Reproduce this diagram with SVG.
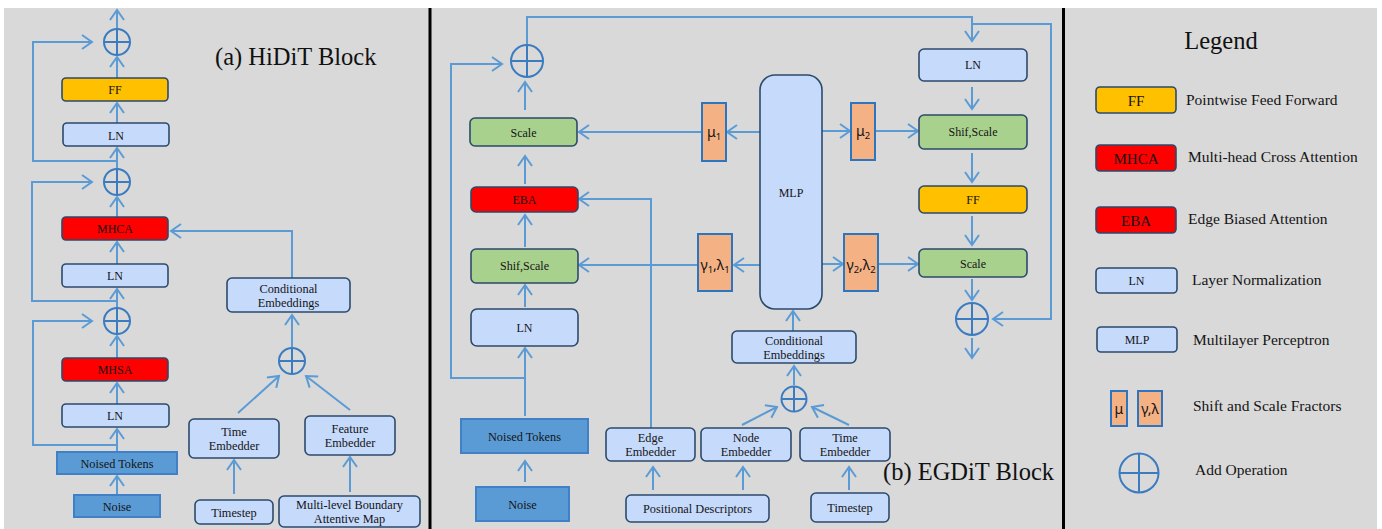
<svg xmlns="http://www.w3.org/2000/svg" width="1382" height="529" viewBox="0 0 1382 529">
  <defs>
    <style>
      .bg { fill: #d9d9d9; }
      .sep { stroke: #000; stroke-width: 3; }
      .box { stroke: #2c4a6b; stroke-width: 1.6; }
      .ln { fill: #c6dafc; }
      .ff { fill: #ffc000; }
      .red { fill: #ff0000; }
      .grn { fill: #a9d18e; }
      .tok { fill: #5b9bd5; stroke: #3f80c6; stroke-width: 2; }
      .fac { fill: #f4b183; stroke: #2e75c0; stroke-width: 2; }
      .add circle { fill: none; stroke: #3b7bc0; stroke-width: 2; }
      .add path { fill: none; stroke: #3b7bc0; stroke-width: 2; }
      .wire { fill: none; stroke: #5b9bd5; stroke-width: 2; marker-end: url(#ah); }
      .t { font-family: "Liberation Serif", "Times New Roman", serif; font-size: 12px; fill: #141414; text-anchor: middle; }
      .tl { font-family: "Liberation Serif", "Times New Roman", serif; font-size: 12.3px; fill: #141414; text-anchor: middle; }
      .title { font-family: "Liberation Serif", "Times New Roman", serif; font-size: 24.5px; fill: #111; }
      .lg { font-family: "Liberation Serif", "Times New Roman", serif; font-size: 15.5px; fill: #141414; }
      .lgb { font-family: "Liberation Serif", "Times New Roman", serif; font-size: 15px; fill: #141414; text-anchor: middle; }
      .g { font-family: "Noto Sans", "DejaVu Sans", sans-serif; font-size: 14px; fill: #141414; text-anchor: middle; }
    </style>
    <marker id="ah" markerUnits="userSpaceOnUse" viewBox="0 -8 12 16" refX="10" refY="0" markerWidth="12" markerHeight="16" orient="auto" overflow="visible">
      <path d="M0,-7 L10,0 L0,7" fill="none" stroke="#5b9bd5" stroke-width="2"/>
    </marker>
  </defs>

  <!-- canvas -->
  <rect x="0" y="0" width="1382" height="529" fill="#fff"/>
  <rect class="bg" x="4" y="8" width="1373" height="521"/>
  <line class="sep" x1="430" y1="8" x2="430" y2="529"/>
  <line class="sep" x1="1063.5" y1="8" x2="1063.5" y2="529"/>

  <!-- connectors -->
  <g id="connectors">
    <!-- HiDiT main path -->
    <path class="wire" d="M117,495 L117,476"/>
    <path class="wire" d="M117,452 L117,429"/>
    <path class="wire" d="M117,404 L117,383"/>
    <path class="wire" d="M117,358 L117,336"/>
    <path class="wire" d="M117,308 L117,289"/>
    <path class="wire" d="M117,264 L117,242"/>
    <path class="wire" d="M117,217 L117,197"/>
    <path class="wire" d="M117,169 L117,148"/>
    <path class="wire" d="M117,123 L117,103"/>
    <path class="wire" d="M117,78 L117,57"/>
    <path class="wire" d="M117,29 L117,10"/>
    <!-- HiDiT residuals -->
    <path class="wire" d="M117,161 L33,161 L33,42 L92,42"/>
    <path class="wire" d="M117,301 L32,301 L32,182 L92,182"/>
    <path class="wire" d="M117,445 L33,445 L33,321 L92,321"/>
    <!-- HiDiT conditioning -->
    <path class="wire" d="M292,278 L292,231 L171,231"/>
    <path class="wire" d="M292,347 L292,315"/>
    <path class="wire" d="M238,413 L279,376"/>
    <path class="wire" d="M350,410 L306,376"/>
    <path class="wire" d="M234,494 L234,460"/>
    <path class="wire" d="M350,492 L350,457"/>

    <!-- EGDiT left column -->
    <path class="wire" d="M525,482 L525,461"/>
    <path class="wire" d="M525,416 L525,348"/>
    <path class="wire" d="M525,307 L525,285"/>
    <path class="wire" d="M525,247 L525,215"/>
    <path class="wire" d="M525,184 L525,156"/>
    <path class="wire" d="M525,110 L525,82"/>
    <path class="wire" d="M525,378 L451,378 L451,64 L502,64"/>
    <path class="wire" d="M527,45 L527,17 L972,17 L972,41"/>
    <path class="wire" d="M972,24 L1051,24 L1051,319 L993,319"/>
    <path class="wire" d="M651,428 L651,199 L579,199"/>
    <!-- modulation factors -->
    <path class="wire" d="M760,132 L727,132"/>
    <path class="wire" d="M702,132 L579,132"/>
    <path class="wire" d="M760,265 L734,265"/>
    <path class="wire" d="M698,265 L579,265"/>
    <path class="wire" d="M822,131 L850,131"/>
    <path class="wire" d="M875,131 L918,131"/>
    <path class="wire" d="M822,264 L843,264"/>
    <path class="wire" d="M878,264 L918,264"/>
    <!-- EGDiT conditioning -->
    <path class="wire" d="M793,331 L793,311"/>
    <path class="wire" d="M794,385 L794,366"/>
    <path class="wire" d="M742,425 L777,407"/>
    <path class="wire" d="M849,425 L812,407"/>
    <path class="wire" d="M653,490 L653,467"/>
    <path class="wire" d="M743,490 L743,467"/>
    <path class="wire" d="M849,490 L849,467"/>
    <!-- EGDiT right column -->
    <path class="wire" d="M972,87 L972,109"/>
    <path class="wire" d="M972,153 L972,182"/>
    <path class="wire" d="M972,216 L972,245"/>
    <path class="wire" d="M972,279 L972,300"/>
    <path class="wire" d="M972,338 L972,358"/>
  </g>

  <!-- (a) HiDiT Block -->
  <text class="title" x="215" y="65">(a) HiDiT Block</text>

  <g id="a-add1" class="add"><circle cx="117" cy="42" r="13"/><path d="M104,42 H130 M117,29 V55"/></g>
  <g id="a-ff"><rect class="box ff" x="62" y="78" width="106" height="23" rx="4"/><text class="t" x="115" y="94">FF</text></g>
  <g id="a-ln3"><rect class="box ln" x="63" y="123" width="106" height="23" rx="4"/><text class="t" x="116" y="139.5">LN</text></g>
  <g id="a-add2" class="add"><circle cx="117" cy="182" r="13"/><path d="M104,182 H130 M117,169 V195"/></g>
  <g id="a-mhca"><rect class="box red" x="62" y="217" width="106" height="23" rx="4"/><text class="t" x="115" y="233">MHCA</text></g>
  <g id="a-ln2"><rect class="box ln" x="62" y="264" width="106" height="23" rx="4"/><text class="t" x="115" y="280">LN</text></g>
  <g id="a-add3" class="add"><circle cx="117" cy="321" r="13"/><path d="M104,321 H130 M117,308 V334"/></g>
  <g id="a-mhsa"><rect class="box red" x="62" y="358" width="106" height="23" rx="4"/><text class="t" x="115" y="374">MHSA</text></g>
  <g id="a-ln1"><rect class="box ln" x="62" y="404" width="107" height="23" rx="4"/><text class="t" x="115" y="420">LN</text></g>
  <g id="a-tokens"><rect class="tok" x="57" y="452" width="120" height="22"/><text class="tl" x="117" y="467.5">Noised Tokens</text></g>
  <g id="a-noise"><rect class="tok" x="74" y="495" width="86" height="22"/><text class="tl" x="117" y="510.5">Noise</text></g>

  <g id="a-cond"><rect class="box ln" x="227" y="278" width="123" height="34" rx="5"/><text class="tl" x="288.5" y="292.5">Conditional</text><text class="tl" x="288.5" y="306.5">Embeddings</text></g>
  <g id="a-add4" class="add"><circle cx="292" cy="361" r="13"/><path d="M279,361 H305 M292,348 V374"/></g>
  <g id="a-time"><rect class="box ln" x="189" y="419" width="90" height="39" rx="5"/><text class="tl" x="234" y="436">Time</text><text class="tl" x="234" y="450">Embedder</text></g>
  <g id="a-feat"><rect class="box ln" x="305" y="416" width="90" height="39" rx="5"/><text class="tl" x="350" y="433">Feature</text><text class="tl" x="350" y="447">Embedder</text></g>
  <g id="a-step"><rect class="box ln" x="195" y="500" width="78" height="24" rx="5"/><text class="tl" x="234" y="516.5">Timestep</text></g>
  <g id="a-map"><rect class="box ln" x="279" y="496" width="141" height="31" rx="5"/><text class="tl" x="349.5" y="508.5">Multi-level Boundary</text><text class="tl" x="349.5" y="522.5">Attentive Map</text></g>

  <!-- (b) EGDiT Block -->
  <text class="title" x="883" y="480">(b) EGDiT Block</text>

  <g id="b-add1" class="add"><circle cx="527" cy="61" r="16"/><path d="M511,61 H543 M527,45 V77"/></g>
  <g id="b-scale1"><rect class="box grn" x="470" y="118" width="107" height="28" rx="5"/><text class="t" x="523.5" y="136.5">Scale</text></g>
  <g id="b-eba"><rect class="box red" x="471" y="187" width="107" height="25" rx="5"/><text class="t" x="524.5" y="204">EBA</text></g>
  <g id="b-shift1"><rect class="box grn" x="471" y="249" width="107" height="34" rx="5"/><text class="t" x="524.5" y="270">Shif,Scale</text></g>
  <g id="b-ln1"><rect class="box ln" x="471" y="309" width="107" height="37" rx="6"/><text class="t" x="524.5" y="332">LN</text></g>
  <g id="b-tokens"><rect class="tok" x="461" y="419" width="127" height="34"/><text class="tl" x="524.5" y="440.5">Noised Tokens</text></g>
  <g id="b-noise"><rect class="tok" x="476" y="487" width="93" height="34"/><text class="tl" x="522.5" y="508.5">Noise</text></g>

  <g id="b-mu1"><rect class="fac" x="702" y="103" width="24" height="58"/><text class="g" x="714" y="137">μ<tspan font-size="9.5" dy="2.5">1</tspan></text></g>
  <g id="b-gl1"><rect class="fac" x="698" y="234" width="34" height="57"/><text class="g" x="715" y="270">γ<tspan font-size="9.5" dy="2.5">1</tspan><tspan dy="-2.5">,λ</tspan><tspan font-size="9.5" dy="2.5">1</tspan></text></g>
  <g id="b-mlp"><rect class="box ln" x="760" y="75" width="62" height="234" rx="15"/><text class="t" x="791" y="197">MLP</text></g>
  <g id="b-mu2"><rect class="fac" x="851" y="103" width="24" height="57"/><text class="g" x="863" y="136">μ<tspan font-size="9.5" dy="2.5">2</tspan></text></g>
  <g id="b-gl2"><rect class="fac" x="844" y="234" width="34" height="57"/><text class="g" x="861" y="270">γ<tspan font-size="9.5" dy="2.5">2</tspan><tspan dy="-2.5">,λ</tspan><tspan font-size="9.5" dy="2.5">2</tspan></text></g>

  <g id="b-ln2"><rect class="box ln" x="919" y="49" width="108" height="32" rx="5"/><text class="t" x="973" y="69">LN</text></g>
  <g id="b-shift2"><rect class="box grn" x="919" y="115" width="108" height="34" rx="5"/><text class="t" x="973" y="136">Shif,Scale</text></g>
  <g id="b-ff"><rect class="box ff" x="919" y="186" width="108" height="27" rx="5"/><text class="t" x="973" y="204">FF</text></g>
  <g id="b-scale2"><rect class="box grn" x="919" y="249" width="108" height="28" rx="5"/><text class="t" x="973" y="268">Scale</text></g>
  <g id="b-add2" class="add"><circle cx="972" cy="319" r="16"/><path d="M956,319 H988 M972,303 V335"/></g>

  <g id="b-cond"><rect class="box ln" x="732" y="331" width="124" height="32" rx="5"/><text class="tl" x="794" y="344.5">Conditional</text><text class="tl" x="794" y="358.5">Embeddings</text></g>
  <g id="b-add3" class="add"><circle cx="794" cy="399" r="12.5"/><path d="M781.5,399 H806.5 M794,386.5 V411.5"/></g>
  <g id="b-edge"><rect class="box ln" x="606" y="428" width="89" height="33" rx="5"/><text class="tl" x="650.5" y="441.7">Edge</text><text class="tl" x="650.5" y="455.7">Embedder</text></g>
  <g id="b-node"><rect class="box ln" x="701" y="428" width="90" height="33" rx="5"/><text class="tl" x="746" y="441.7">Node</text><text class="tl" x="746" y="455.7">Embedder</text></g>
  <g id="b-time"><rect class="box ln" x="800" y="428" width="90" height="33" rx="5"/><text class="tl" x="845" y="441.7">Time</text><text class="tl" x="845" y="455.7">Embedder</text></g>
  <g id="b-pos"><rect class="box ln" x="626" y="495" width="143" height="27" rx="5"/><text class="tl" x="697.5" y="513">Positional Descriptors</text></g>
  <g id="b-step"><rect class="box ln" x="811" y="493" width="78" height="29" rx="5"/><text class="tl" x="850" y="512">Timestep</text></g>

  <!-- Legend -->
  <g id="legend">
    <text class="title" x="1221" y="49" text-anchor="middle">Legend</text>
    <rect class="box ff" x="1096" y="87" width="80" height="26" rx="4"/><text class="lgb" x="1136" y="105.5">FF</text>
    <text class="lg" x="1186" y="105">Pointwise Feed Forward</text>
    <rect class="box red" x="1096" y="145" width="80" height="26" rx="4"/><text class="lgb" x="1136" y="163.5">MHCA</text>
    <text class="lg" x="1188" y="162">Multi-head Cross Attention</text>
    <rect class="box red" x="1096" y="207" width="80" height="26" rx="4"/><text class="lgb" x="1136" y="225.5">EBA</text>
    <text class="lg" x="1188" y="224">Edge Biased Attention</text>
    <rect class="box ln" x="1096" y="268" width="81" height="25" rx="4"/><text class="t" x="1136.5" y="285">LN</text>
    <text class="lg" x="1192" y="285">Layer Normalization</text>
    <rect class="box ln" x="1097" y="327" width="80" height="25" rx="4"/><text class="t" x="1137" y="344">MLP</text>
    <text class="lg" x="1193" y="345">Multilayer Perceptron</text>
    <rect class="fac" x="1111" y="391" width="16" height="35"/><text class="g" x="1119" y="414">μ</text>
    <rect class="fac" x="1138" y="391" width="24" height="35"/><text class="g" x="1150" y="414">γ,λ</text>
    <text class="lg" x="1193" y="411">Shift and Scale Fractors</text>
    <g class="add"><circle cx="1139" cy="473" r="19.5"/><path d="M1119.5,473 H1158.5 M1139,453.5 V492.5"/></g>
    <text class="lg" x="1195" y="475">Add Operation</text>
  </g>
</svg>
